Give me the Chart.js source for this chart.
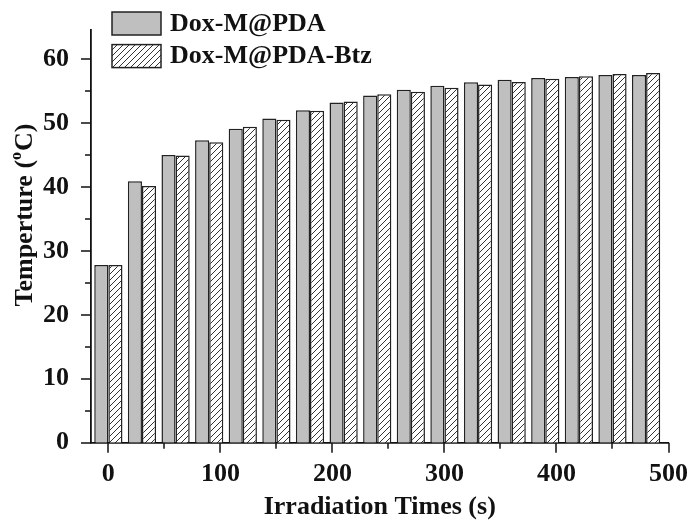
<!DOCTYPE html>
<html>
<head>
<meta charset="utf-8">
<script src="https://cdn.jsdelivr.net/npm/chart.js@4.4.1/dist/chart.umd.min.js"></script>
<style>
  html, body { margin: 0; padding: 0; background: #fff; }
  #wrap { width: 696px; height: 528px; }
</style>
</head>
<body>
<div id="wrap"><canvas id="temp"></canvas></div>
<script>
// irradiation times (s) and temperatures (oC)
const times = [0, 30, 60, 90, 120, 150, 180, 210, 240, 270, 300, 330, 360, 390, 420, 450, 480];
const doxM = [27.8, 40.9, 45.0, 47.3, 49.1, 50.7, 52.0, 53.2, 54.3, 55.2, 55.8, 56.35, 56.75, 57.05, 57.2, 57.5, 57.5];
const doxMBtz = [27.8, 40.15, 44.9, 47.0, 49.4, 50.5, 51.9, 53.35, 54.5, 54.9, 55.5, 56.0, 56.4, 56.9, 57.3, 57.65, 57.8];
const seriesNames = ['Dox-M@PDA', 'Dox-M@PDA-Btz'];
const xMajor = [0, 100, 200, 300, 400, 500];
const xMinor = [50, 150, 250, 350, 450];
const yMajor = [0, 10, 20, 30, 40, 50, 60];
const yMinor = [5, 15, 25, 35, 45, 55];

const FONT = '"Liberation Serif", "Times New Roman", serif';
const ctx = document.getElementById('temp').getContext('2d');

// white with thin "/" lines
function hatch() {
  const c = document.createElement('canvas');
  c.width = 6; c.height = 6;
  const g = c.getContext('2d');
  g.fillStyle = '#fff';
  g.fillRect(0, 0, 6, 6);
  g.strokeStyle = '#333';
  g.lineWidth = 1;
  g.beginPath();
  g.moveTo(0, 6); g.lineTo(6, 0);
  g.moveTo(-1, 1); g.lineTo(1, -1);
  g.moveTo(5, 7); g.lineTo(7, 5);
  g.stroke();
  return ctx.createPattern(c, 'repeat');
}

const decor = {
  id: 'decor',
  afterDraw(chart) {
    const c = chart.ctx;
    const xs = chart.scales.x, ys = chart.scales.y;
    const area = chart.chartArea;
    c.save();
    c.strokeStyle = '#111';
    c.lineWidth = 1.5;
    c.beginPath();
    xMajor.forEach(v => { const p = Math.round(xs.getPixelForValue(v)); c.moveTo(p, area.bottom); c.lineTo(p, area.bottom + 10); });
    xMinor.forEach(v => { const p = Math.round(xs.getPixelForValue(v)); c.moveTo(p, area.bottom); c.lineTo(p, area.bottom + 6); });
    yMajor.forEach(v => { const p = Math.round(ys.getPixelForValue(v)); c.moveTo(area.left, p); c.lineTo(area.left - 10, p); });
    yMinor.forEach(v => { const p = Math.round(ys.getPixelForValue(v)); c.moveTo(area.left, p); c.lineTo(area.left - 6, p); });
    c.stroke();

    c.fillStyle = '#111';
    // x title
    c.font = 'bold 26px ' + FONT;
    c.textAlign = 'center';
    c.textBaseline = 'middle';
    c.fillText('Irradiation Times (s)', (area.left + area.right) / 2, 507);

    // y title with superscript o
    c.save();
    c.translate(25, 215);
    c.rotate(-Math.PI / 2);
    c.textAlign = 'left';
    c.textBaseline = 'middle';
    const big = 'bold 26px ' + FONT, small = 'bold 16px ' + FONT;
    c.font = big;
    const w1 = c.measureText('Temperture (').width;
    const w3 = c.measureText('C)').width;
    c.font = small;
    const w2 = c.measureText('o').width + 1;
    let x0 = -(w1 + w2 + w3) / 2;
    c.font = big;
    c.fillText('Temperture (', x0, 0);
    c.font = small;
    c.fillText('o', x0 + w1, -8);
    c.font = big;
    c.fillText('C)', x0 + w1 + w2, 0);
    c.restore();

    // legend
    c.textAlign = 'left';
    c.font = 'bold 26px ' + FONT;
    chart.data.datasets.forEach((ds, i) => {
      const top = 12 + i * 32.6;
      c.fillStyle = ds.backgroundColor;
      c.fillRect(112, top, 49, 23);
      c.lineWidth = 1.5;
      c.strokeStyle = '#222';
      c.strokeRect(112, top, 49, 23);
      c.fillStyle = '#111';
      c.fillText(ds.label, 170, top + 12);
    });
    c.restore();
  }
};

new Chart(ctx, {
  type: 'bar',
  data: {
    datasets: [
      {
        label: seriesNames[0],
        data: times.map((t, i) => ({ x: t, y: doxM[i] })),
        backgroundColor: '#bfbfbf',
        borderColor: '#222',
        borderWidth: 1.5,
      },
      {
        label: seriesNames[1],
        data: times.map((t, i) => ({ x: t, y: doxMBtz[i] })),
        backgroundColor: hatch(),
        borderColor: '#222',
        borderWidth: 1.5,
      },
    ],
  },
  options: {
    responsive: true,
    maintainAspectRatio: false,
    animation: false,
    layout: { padding: { top: 12, right: 24, left: 0, bottom: 0 } },
    categoryPercentage: 0.84,
    barPercentage: 1.0,
    plugins: {
      legend: { display: false },
      tooltip: { enabled: false },
    },
    scales: {
      x: {
        type: 'linear',
        min: -15.5,
        max: 500,
        offset: false,
        afterBuildTicks: s => { s.ticks = xMajor.map(v => ({ value: v })); },
        afterFit: s => { s.height = 85.3; },
        grid: { display: false },
        border: { display: true, color: '#111', width: 1.8 },
        ticks: {
          color: '#111',
          padding: 8,
          maxRotation: 0,
          font: { family: FONT, size: 26, weight: 'bold' },
        },
      },
      y: {
        min: 0,
        max: 64.6,
        afterBuildTicks: s => { s.ticks = yMajor.map(v => ({ value: v })); },
        afterFit: s => { s.width = 91; },
        grid: { display: false },
        border: { display: true, color: '#111', width: 1.8 },
        ticks: {
          color: '#111',
          padding: 14,
          font: { family: FONT, size: 26, weight: 'bold' },
        },
      },
    },
  },
  plugins: [decor],
});
</script>
</body>
</html>
